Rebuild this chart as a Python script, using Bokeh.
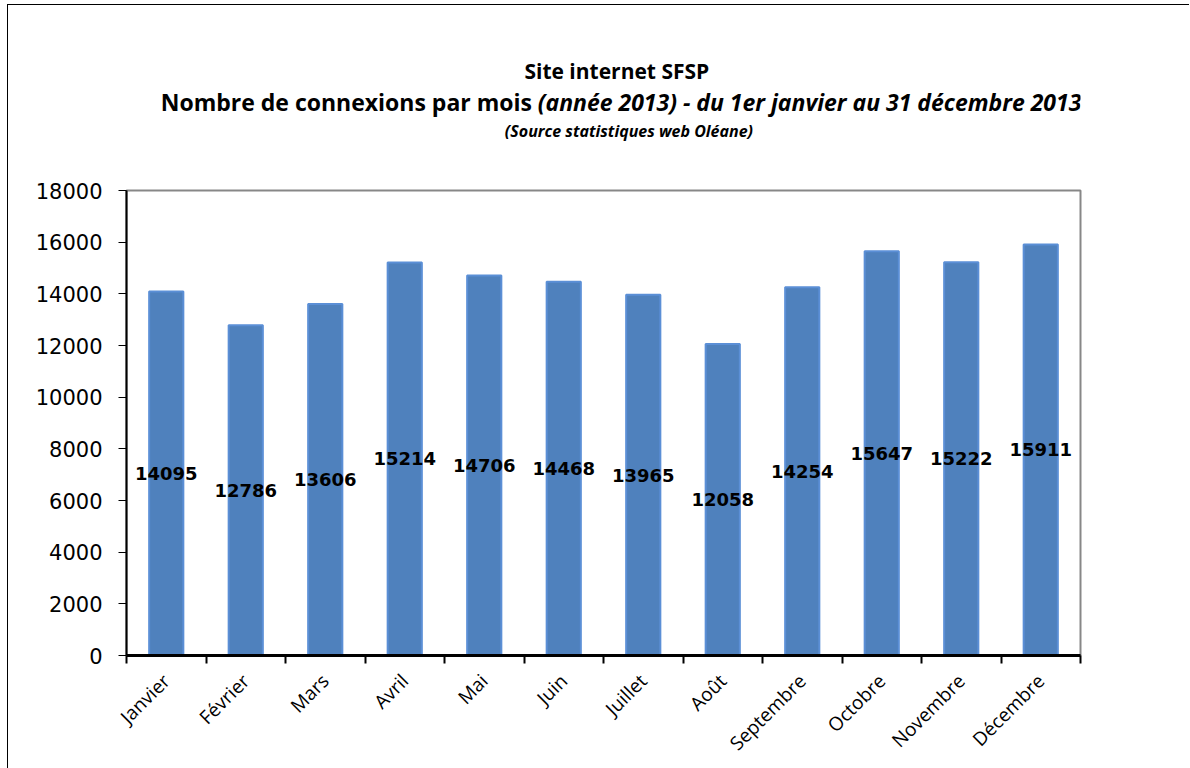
import math
from bokeh.plotting import figure
from bokeh.layouts import column
from bokeh.models import ColumnDataSource, Range1d, FixedTicker
from bokeh.core.properties import value
from bokeh.embed import file_html
from bokeh.resources import INLINE

months = ["Janvier", "Février", "Mars", "Avril", "Mai", "Juin", "Juillet",
          "Août", "Septembre", "Octobre", "Novembre", "Décembre"]
visits = [14095, 12786, 13606, 15214, 14706, 14468, 13965, 12058, 14254, 15647, 15222, 15911]
y_ticks = [0, 2000, 4000, 6000, 8000, 10000, 12000, 14000, 16000, 18000]
title_line1 = "Site internet SFSP"
title_line2a = "Nombre de connexions par mois"
title_line2b = "(année 2013) - du 1er janvier au 31 décembre 2013"
title_line3 = "(Source statistiques web Oléane)"

W = 1181
TITLE_H = 165
MAIN_H = 598

# ---- title strip (its own pixel-sized ranges, y downward) ----
t = figure(width=W, height=TITLE_H, x_range=Range1d(0, W), y_range=Range1d(TITLE_H, 0),
           output_backend="svg", toolbar_location=None,
           min_border_left=0, min_border_right=0, min_border_top=0, min_border_bottom=0)
t.axis.visible = False
t.grid.visible = False
t.outline_line_color = None
t.background_fill_color = "white"
t.border_fill_color = "white"

def add_text(fig, x, y, txt, size, style, align):
    fig.text(x=[x], y=[y], text=[txt], text_font=value("Open Sans"),
             text_font_size=size, text_font_style=style, text_align=align,
             text_baseline="middle", text_color="black")

add_text(t, 607, 65, title_line1, "21px", "bold", "center")
add_text(t, 502, 96, title_line2a, "23px", "bold", "right")
add_text(t, 509, 96, title_line2b, "23px", "bold italic", "left")
add_text(t, 622, 125, title_line3, "16px", "bold italic", "center")

# ---- main chart ----
xs = [i + 0.5 for i in range(len(months))]
source = ColumnDataSource(dict(
    x=xs, top=visits, mid=[v / 2 for v in visits], label=[str(v) for v in visits]))

p = figure(width=W, height=MAIN_H, x_range=Range1d(0, len(months)),
           y_range=Range1d(0, y_ticks[-1]), output_backend="svg",
           toolbar_location=None, min_border_left=118, min_border_right=109,
           min_border_top=20, min_border_bottom=112)
p.background_fill_color = "white"
p.border_fill_color = "white"
p.outline_line_color = "#878787"
p.outline_line_width = 2
p.xgrid.visible = False
p.ygrid.visible = False

p.vbar(x="x", top="top", width=0.43, source=source,
       fill_color="#4F81BD", line_color="#5B8FD6", line_width=2)
p.text(x="x", y="mid", text="label", source=source,
       text_font=value("DejaVu Sans"), text_font_style="bold",
       text_font_size="18px", text_align="center", text_baseline="middle",
       text_color="black")

# x axis: labels at category centres, ticks at category boundaries
p.xaxis.ticker = FixedTicker(ticks=xs, minor_ticks=list(range(len(months) + 1)))
p.xaxis.major_label_overrides = {x: m for x, m in zip(xs, months)}
p.xaxis.major_tick_out = 0
p.xaxis.major_tick_in = 0
p.xaxis.minor_tick_out = 8
p.xaxis.minor_tick_in = 0
p.xaxis.minor_tick_line_color = "black"
p.xaxis.minor_tick_line_width = 2
p.xaxis.axis_line_width = 3
p.xaxis.axis_line_color = "black"
p.xaxis.major_label_orientation = math.pi / 4
p.xaxis.major_label_text_font = "Open Sans"
p.xaxis.major_label_text_font_size = "19px"
p.xaxis.major_label_text_color = "black"
p.xaxis.major_label_standoff = 14

# y axis
p.yaxis.ticker = FixedTicker(ticks=y_ticks)
p.yaxis.minor_tick_line_color = None
p.yaxis.major_tick_out = 8
p.yaxis.major_tick_in = 0
p.yaxis.major_tick_line_color = "black"
p.yaxis.major_tick_line_width = 1
p.yaxis.axis_line_color = "black"
p.yaxis.axis_line_width = 2
p.yaxis.major_label_text_font = "DejaVu Sans"
p.yaxis.major_label_text_font_size = "21px"
p.yaxis.major_label_text_color = "black"
p.yaxis.major_label_standoff = 16

layout = column(t, p, spacing=0)
layout.styles = {"border-top": "1px solid black", "border-left": "1px solid black",
                 "margin-left": "7px", "margin-top": "4px"}

open("out.html", "w").write(file_html(layout, INLINE))
